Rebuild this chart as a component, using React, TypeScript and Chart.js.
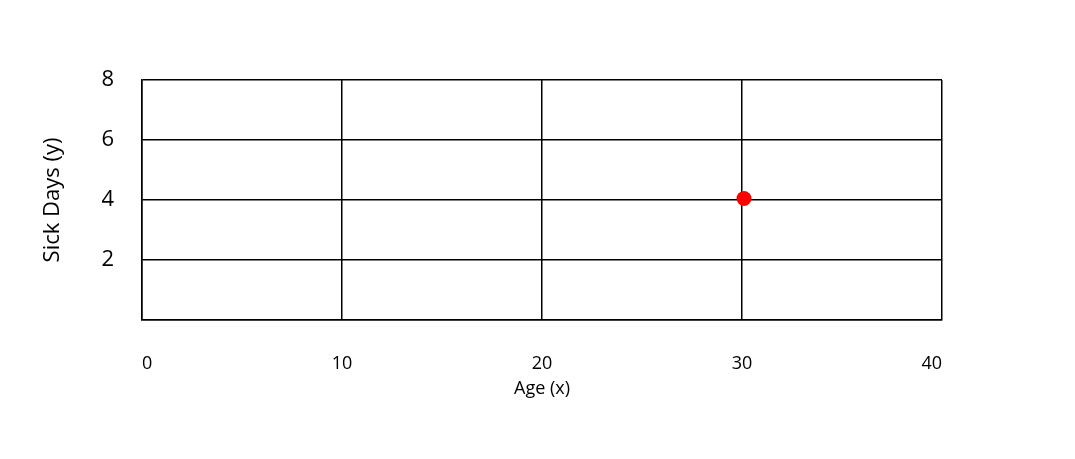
import React, { useEffect, useRef } from "react";
import { Chart, registerables } from "chart.js";

Chart.register(...registerables);

const ageValues = [30.1];
const sickDaysValues = [4.05];
const xTickValues = [0, 10, 20, 30, 40];
const yTickValues = [0, 2, 4, 6, 8];
const xTitle = "Age (x)";
const yTitle = "Sick Days (y)";

const FONT = "'Open Sans', 'Noto Sans', sans-serif";

export default function App() {
  const ref = useRef<HTMLCanvasElement | null>(null);

  useEffect(() => {
    if (!ref.current) return;
    const points = ageValues.map((x, i) => ({ x, y: sickDaysValues[i] }));
    const chart = new Chart(ref.current, {
      type: "scatter",
      data: {
        datasets: [
          {
            data: points,
            backgroundColor: "#ff0000",
            borderColor: "#ff0000",
            pointRadius: 7.5,
            pointHoverRadius: 7.5,
            borderWidth: 0,
          },
        ],
      },
      options: {
        animation: false,
        responsive: false,
        events: [],
        layout: { padding: { left: 0, right: 125, top: 72, bottom: 0 } },
        plugins: {
          legend: { display: false },
          tooltip: { enabled: false },
        },
        scales: {
          x: {
            type: "linear",
            min: xTickValues[0],
            max: xTickValues[xTickValues.length - 1],
            afterBuildTicks: (scale: any) => {
              scale.ticks = xTickValues.map((v) => ({ value: v }));
            },
            afterFit: (scale: any) => {
              scale.height = 131;
            },
            grid: { color: "#000", lineWidth: 1.5, drawTicks: false },
            border: { color: "#000", width: 1.5 },
            ticks: {
              color: "#000",
              padding: 33,
              align: "inner",
              font: { family: FONT, size: 18 },
            },
            title: {
              display: true,
              text: xTitle,
              color: "#000",
              font: { family: FONT, size: 18 },
              padding: { top: 0, bottom: 51 },
            },
          },
          y: {
            type: "linear",
            min: yTickValues[0],
            max: yTickValues[yTickValues.length - 1],
            afterBuildTicks: (scale: any) => {
              scale.ticks = yTickValues.map((v) => ({ value: v }));
            },
            afterFit: (scale: any) => {
              scale.width = 134;
            },
            grid: { color: "#000", lineWidth: 1.5, drawTicks: false },
            border: { color: "#000", width: 1.5 },
            ticks: {
              color: "#000",
              padding: 28,
              font: { family: FONT, size: 22 },
              callback: (v: any) => (Number(v) === 0 ? "" : String(v)),
            },
            title: {
              display: true,
              text: yTitle,
              color: "#000",
              font: { family: FONT, size: 22 },
              padding: { top: 32, bottom: 0 },
            },
          },
        },
      },
    });
    return () => chart.destroy();
  }, []);

  return (
    <div style={{ width: 1059, height: 443 }}>
      <canvas ref={ref} width={1059} height={443} style={{ display: "block" }} />
    </div>
  );
}
